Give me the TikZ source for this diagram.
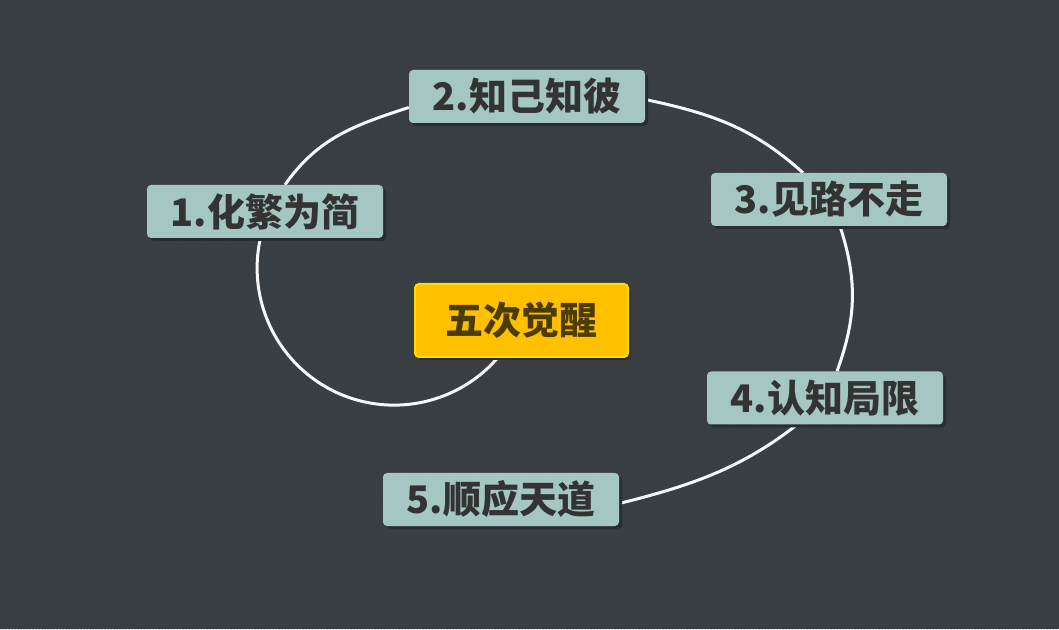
\documentclass[tikz,border=0pt]{standalone}
\usepackage{fontspec}
\newfontfamily\cjk{Noto Sans CJK SC}
\usetikzlibrary{backgrounds,shadows,patterns}
\definecolor{bgc}{HTML}{3A3F43}
\definecolor{dotc}{HTML}{31353A}
\definecolor{boxc}{HTML}{A5C7C1}
\definecolor{txtc}{HTML}{333333}
\definecolor{shadowc}{HTML}{2A2D30}
\definecolor{corec}{HTML}{FFC000}
\definecolor{coreborder}{HTML}{FFDD00}
\definecolor{coretxt}{HTML}{4D3C00}
\definecolor{linec}{HTML}{F7F7F7}
\begin{document}
\begin{tikzpicture}[x=1pt,y=1pt,
  stepbox/.style={rounded corners=4pt, fill=boxc, text=txtc,
    minimum width=236pt, minimum height=53pt, inner sep=0pt,
    font=\cjk\bfseries\fontsize{38}{40}\selectfont,
    general shadow={shadow xshift=3pt, shadow yshift=-3pt, fill=shadowc}},
  corebox/.style={rounded corners=4pt, fill=corec, draw=coreborder, line width=2pt,
    text=coretxt, minimum width=213pt, minimum height=73pt, inner sep=0pt,
    font=\cjk\bfseries\fontsize{38}{40}\selectfont,
    general shadow={shadow xshift=3pt, shadow yshift=-3pt, fill=shadowc}},
  spiral/.style={draw=linec, line width=3pt}]
\useasboundingbox (0,0) rectangle (1059,629);
\node[corebox] (c) at (521.5,308.5) {五次觉醒};
\node[stepbox] (n1) at (265,417.5) {1.化繁为简};
\node[stepbox] (n2) at (527,532.5) {2.知己知彼};
\node[stepbox] (n3) at (829,429.5) {3.见路不走};
\node[stepbox] (n4) at (825,231) {4.认知局限};
\node[stepbox] (n5) at (501,129.5) {5.顺应天道};
\begin{scope}[on background layer]
  \fill[bgc] (0,0) rectangle (1059,629);
  \fill[pattern=dots, pattern color=dotc] (0,0) rectangle (1059,629);
  \draw[spiral] ([xshift=-24pt]c.south) arc[start angle=-41, end angle=-194, radius=137];
  \draw[spiral] ([xshift=20pt]n1.north) to[out=55,in=198] ([yshift=-11pt]n2.west);
  \draw[spiral] ([yshift=-3pt]n2.east) to[out=-12,in=138] ([xshift=-26pt]n3.north);
  \draw[spiral] ([xshift=11pt]n3.south) to[out=-72,in=70] ([xshift=12pt]n4.north);
  \draw[spiral] ([xshift=-28pt]n4.south) to[out=218,in=14,looseness=0.95] ([yshift=-4pt]n5.east);
\end{scope}
\end{tikzpicture}
\end{document}
